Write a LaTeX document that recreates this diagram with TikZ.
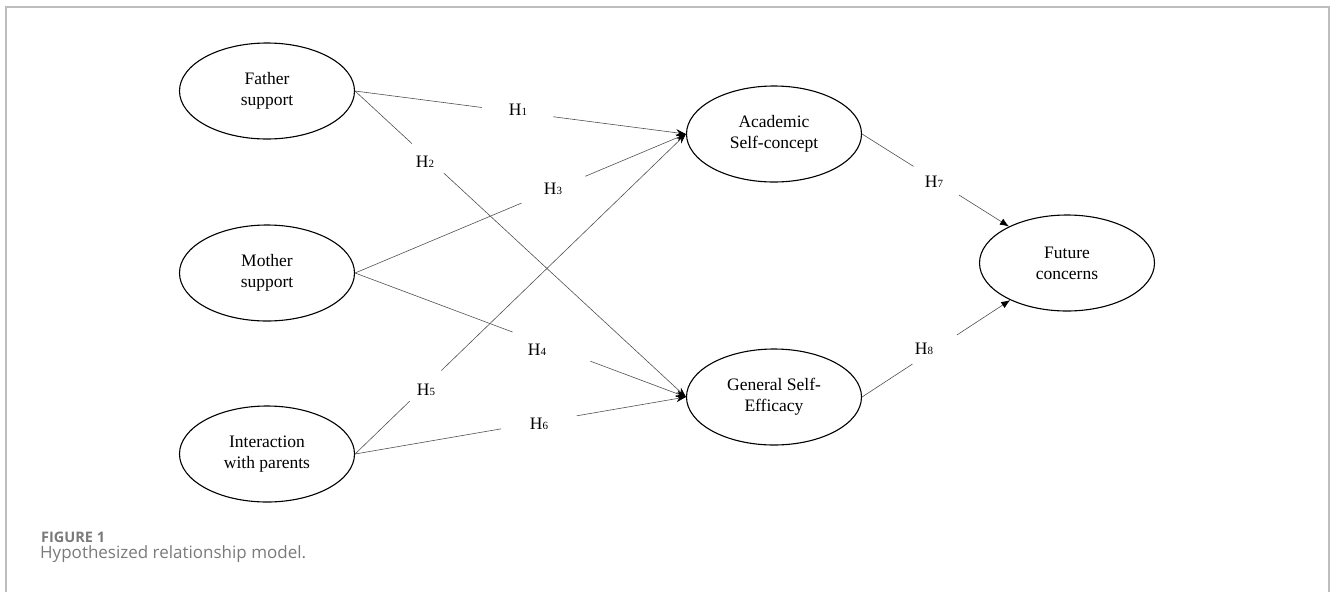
\documentclass[tikz,border=0pt]{standalone}
\usepackage{fontspec}
\setmainfont{Liberation Serif}
\newfontfamily\capfont{Open Sans}
\usetikzlibrary{shapes.geometric,arrows.meta}
\definecolor{framegray}{HTML}{BDBDBD}
\definecolor{capgray}{HTML}{7A7A7A}
\definecolor{linegray}{HTML}{505050}
\newcommand\hyp[1]{H\raisebox{-0.5pt}{\fontsize{11}{11}\selectfont #1}}
\tikzset{
  construct/.style={ellipse, draw=black, line width=1.1pt, minimum width=175pt, minimum height=96pt, inner sep=0pt, align=center, font=\fontsize{17.5}{21}\selectfont},
  hlabel/.style={inner sep=0pt, font=\fontsize{17.5}{21}\selectfont},
  link/.style={draw=linegray, line width=0.6pt},
  arr/.style={link, -{Stealth[length=10pt,width=7pt,color=black]}},
  arrb/.style={link, -{Latex[length=9pt,width=7pt,color=black]}},
}
\begin{document}
\begin{tikzpicture}[x=1pt,y=-1pt]
\useasboundingbox (0,0) rectangle (1330,592);
\draw[framegray, line width=1.6pt] (6,592) -- (6,7) -- (1329,7) -- (1329,592);

\node[construct] (fa) at (267,91) {Father\\support};
\node[construct] (mo) at (267,273) {Mother\\support};
\node[construct] (in) at (267,454) {Interaction\\with parents};
\node[construct] (ac) at (774,134) {Academic\\Self-concept};
\node[construct] (ge) at (774,397) {General Self-\\Efficacy};
\node[construct] (fu) at (1067,263) {Future\\concerns};

% gaps along each path
\path (fa.east) -- (ac.west) coordinate[pos=0.383] (g1a) coordinate[pos=0.599] (g1b);
\path (fa.east) -- (ge.west) coordinate[pos=0.172] (g2a) coordinate[pos=0.268] (g2b);
\path (mo.east) -- (ac.west) coordinate[pos=0.503] (g3a) coordinate[pos=0.696] (g3b);
\path (mo.east) -- (ge.west) coordinate[pos=0.476] (g4a) coordinate[pos=0.711] (g4b);
\path (in.east) -- (ac.west) coordinate[pos=0.165] (g5a) coordinate[pos=0.261] (g5b);
\path (in.east) -- (ge.west) coordinate[pos=0.441] (g6a) coordinate[pos=0.670] (g6b);
\path (ac.east) -- (fu) coordinate[pos=0.35] (g7a) coordinate[pos=0.66] (g7b);
\path (ge.east) -- (fu) coordinate[pos=0.34] (g8a) coordinate[pos=0.64] (g8b);

\draw[link] (fa.east) -- (g1a); \draw[arr] (g1b) -- (ac.west);
\draw[link] (fa.east) -- (g2a); \draw[arr] (g2b) -- (ge.west);
\draw[link] (mo.east) -- (g3a); \draw[arr] (g3b) -- (ac.west);
\draw[link] (mo.east) -- (g4a); \draw[arr] (g4b) -- (ge.west);
\draw[link] (in.east) -- (g5a); \draw[arr] (g5b) -- (ac.west);
\draw[link] (in.east) -- (g6a); \draw[arr] (g6b) -- (ge.west);
\draw[link] (ac.east) -- (g7a); \draw[arrb] (g7b) -- (fu);
\draw[link] (ge.east) -- (g8a); \draw[arrb] (g8b) -- (fu);

\node[hlabel] (h1) at (518,110) {\hyp{1}};
\node[hlabel] (h2) at (425,162) {\hyp{2}};
\node[hlabel] (h3) at (553,189) {\hyp{3}};
\node[hlabel] (h4) at (537,350) {\hyp{4}};
\node[hlabel] (h5) at (426,390) {\hyp{5}};
\node[hlabel] (h6) at (539,424) {\hyp{6}};
\node[hlabel] (h7) at (934,182) {\hyp{7}};
\node[hlabel] (h8) at (924,349) {\hyp{8}};

\node[anchor=base west, inner sep=0pt, text=capgray, font=\capfont\bfseries\fontsize{14.5}{17}\selectfont] (fig) at (41,542) {FIGURE 1};
\node[anchor=base west, inner sep=0pt, text=capgray, font=\capfont\fontsize{17}{20}\selectfont] (cap) at (40,558) {Hypothesized relationship model.};
\end{tikzpicture}
\end{document}
